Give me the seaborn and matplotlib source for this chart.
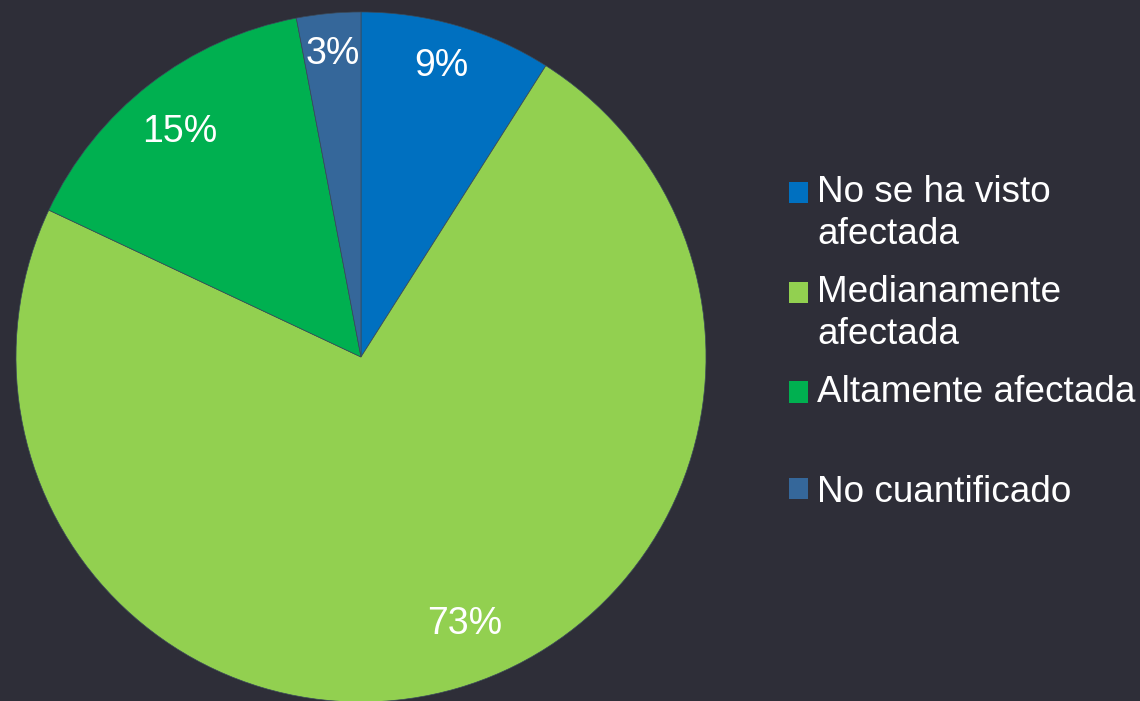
import numpy as np
import matplotlib.pyplot as plt
import matplotlib.patches as mpatches
from matplotlib.legend_handler import HandlerPatch
import seaborn as sns

categories = ["No se ha visto\nafectada", "Medianamente\nafectada",
              "Altamente afectada\n", "No cuantificado"]
shares = [9, 73, 15, 3]
colors = ["#0070C0", "#92D050", "#00B050", "#35679A"]

BG = "#2E2E38"

sns.set_theme(style="white")
plt.rcParams["font.family"] = ["Liberation Sans", "DejaVu Sans"]

fig = plt.figure(figsize=(11.4, 7.01), dpi=100, facecolor=BG)
# square axes: pie centre ~ (361, 357) px, radius ~345 px
ax = fig.add_axes([16 / 1140, -1 / 701, 690 / 1140, 690 / 701])
ax.set_facecolor(BG)

wedges, texts, autotexts = ax.pie(
    shares,
    colors=colors,
    startangle=90,
    counterclock=False,
    autopct="%1.0f%%",
    pctdistance=0.87,
    wedgeprops=dict(linewidth=0.5, edgecolor="#3a4a5a"),
    textprops=dict(color="white", fontsize=27),
)
ax.set_xlim(-1, 1)
ax.set_ylim(-1, 1)
ax.axis("off")

# "best fit" label placement, a bit like the original tool does it
label_dist = [0.875, 0.83, 0.837, 0.882]
label_turn = [0.8, 5.1, 1.0, 0.0]
for w, t, d, turn in zip(wedges, autotexts, label_dist, label_turn):
    mid = np.deg2rad((w.theta1 + w.theta2) / 2 + turn)
    t.set_position((d * np.cos(mid), d * np.sin(mid)))

# markers sit on the first line of a two-line label
n_lines = {w: c.count("\n") + 1 for w, c in zip(wedges, categories)}


def first_line_square(legend, orig_handle, xdescent, ydescent, width, height, fontsize):
    lift = 0.585 * fontsize if n_lines[orig_handle] > 1 else 0
    return mpatches.Rectangle((-xdescent, -ydescent + lift), width, height)


leg = fig.legend(
    wedges,
    categories,
    loc="upper left",
    bbox_to_anchor=(789 / 1140, 1 - 175 / 701),
    frameon=False,
    fontsize=26.6,
    labelcolor="white",
    handlelength=0.515,
    handleheight=0.515,
    handletextpad=0.25,
    labelspacing=0.62,
    borderpad=0,
    borderaxespad=0,
    handler_map={mpatches.Wedge: HandlerPatch(patch_func=first_line_square)},
)
for h in leg.legend_handles:
    h.set_edgecolor("none")
for t in leg.get_texts():
    t.set_linespacing(1.26)

fig.savefig("out.png", dpi=100, facecolor=BG)
